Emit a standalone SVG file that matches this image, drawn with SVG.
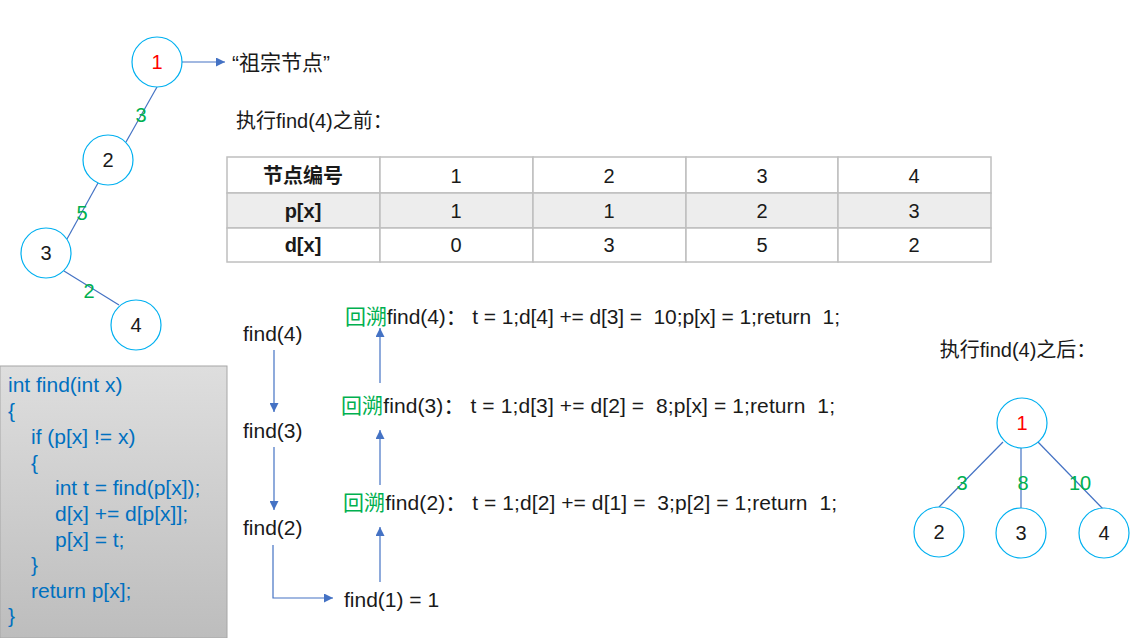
<svg xmlns="http://www.w3.org/2000/svg" width="1142" height="638" viewBox="0 0 1142 638">
<defs>
<marker id="arr" viewBox="0 0 10 10" refX="10" refY="5" markerWidth="9" markerHeight="9" markerUnits="userSpaceOnUse" orient="auto">
<path d="M0,0 L10,5 L0,10 z" fill="#4472C4"/>
</marker>
<linearGradient id="codebg" x1="0" y1="0" x2="0" y2="1">
<stop offset="0" stop-color="#DEDEDE"/>
<stop offset="1" stop-color="#BDBDBD"/>
</linearGradient>
<style>
text{font-family:"Liberation Sans","Noto Sans CJK SC",sans-serif;fill:#1a1a1a;white-space:pre;}
.node circle{fill:#fff;stroke:#00B0F0;stroke-width:1.2;}
.node text{font-size:20px;text-anchor:middle;dominant-baseline:central;}
.red{fill:#FF0000 !important;}
.grn{fill:#00B050 !important;}
.lbl{font-size:20px;text-anchor:middle;dominant-baseline:central;fill:#00B050;}
.edge{stroke:#4472C4;stroke-width:1.2;fill:none;}
.arrow{stroke:#4472C4;stroke-width:1.2;fill:none;marker-end:url(#arr);}
.cell{fill:#fff;stroke:#BFBFBF;stroke-width:1.5;}
.cellg{fill:#EDEDED;stroke:#BFBFBF;stroke-width:1.5;}
.tt{font-size:20px;text-anchor:middle;dominant-baseline:central;}
.tb{font-size:20px;text-anchor:middle;dominant-baseline:central;font-weight:bold;}
.code{font-size:21px;fill:#0070C0;dominant-baseline:central;}
.flow{font-size:21px;dominant-baseline:central;}
</style>
</defs>

<g id="connectors">
<line class="edge" x1="157" y1="87" x2="126" y2="142"/>
<line class="edge" x1="98" y1="183" x2="67" y2="239"/>
<line class="edge" x1="64" y1="271" x2="119" y2="305"/>
<line class="arrow" x1="182" y1="62" x2="225" y2="62"/>
<line class="arrow" x1="274" y1="350" x2="274" y2="412"/>
<line class="arrow" x1="274" y1="447" x2="274" y2="510"/>
<polyline class="arrow" points="273,545 273,598 333,598"/>
<line class="arrow" x1="380" y1="383" x2="380" y2="328"/>
<line class="arrow" x1="380" y1="485" x2="380" y2="430"/>
<line class="arrow" x1="380" y1="582" x2="380" y2="527"/>
<line class="edge" x1="1003" y1="442" x2="939" y2="507"/>
<line class="edge" x1="1021" y1="448" x2="1021" y2="508"/>
<line class="edge" x1="1038" y1="442" x2="1103" y2="509"/>
</g>

<g id="edge-labels">
<text class="lbl" x="141" y="115">3</text>
<text class="lbl" x="82" y="213">5</text>
<text class="lbl" x="89" y="291">2</text>
<text class="lbl" x="962" y="483">3</text>
<text class="lbl" x="1023" y="483">8</text>
<text class="lbl" x="1080" y="483">10</text>
</g>

<g id="n1" class="node"><circle cx="157" cy="62" r="25"/><text x="157" y="62" class="red">1</text></g>
<g id="n2" class="node"><circle cx="108" cy="160" r="25"/><text x="108" y="160">2</text></g>
<g id="n3" class="node"><circle cx="46" cy="253" r="25"/><text x="46" y="253">3</text></g>
<g id="n4" class="node"><circle cx="136" cy="325" r="25"/><text x="136" y="325">4</text></g>

<g id="ancestor-label"><text x="232" y="62" style="font-size:21px;dominant-baseline:central;">“祖宗节点”</text></g>
<g id="before-title"><text x="236" y="121" style="font-size:20px;dominant-baseline:central;">执行find(4)之前：</text></g>

<g id="table">
<rect class="cell" x="227" y="157" width="153" height="36"/>
<rect class="cell" x="380" y="157" width="153" height="36"/>
<rect class="cell" x="533" y="157" width="153" height="36"/>
<rect class="cell" x="686" y="157" width="152" height="36"/>
<rect class="cell" x="838" y="157" width="153" height="36"/>
<rect class="cellg" x="227" y="193" width="153" height="35"/>
<rect class="cellg" x="380" y="193" width="153" height="35"/>
<rect class="cellg" x="533" y="193" width="153" height="35"/>
<rect class="cellg" x="686" y="193" width="152" height="35"/>
<rect class="cellg" x="838" y="193" width="153" height="35"/>
<rect class="cell" x="227" y="228" width="153" height="34"/>
<rect class="cell" x="380" y="228" width="153" height="34"/>
<rect class="cell" x="533" y="228" width="153" height="34"/>
<rect class="cell" x="686" y="228" width="152" height="34"/>
<rect class="cell" x="838" y="228" width="153" height="34"/>
<text class="tb" x="303" y="176">节点编号</text>
<text class="tt" x="456" y="176">1</text>
<text class="tt" x="609" y="176">2</text>
<text class="tt" x="762" y="176">3</text>
<text class="tt" x="914" y="176">4</text>
<text class="tb" x="303" y="211">p[x]</text>
<text class="tt" x="456" y="211">1</text>
<text class="tt" x="609" y="211">1</text>
<text class="tt" x="762" y="211">2</text>
<text class="tt" x="914" y="211">3</text>
<text class="tb" x="303" y="245">d[x]</text>
<text class="tt" x="456" y="245">0</text>
<text class="tt" x="609" y="245">3</text>
<text class="tt" x="762" y="245">5</text>
<text class="tt" x="914" y="245">2</text>
</g>

<g id="code">
<rect x="0" y="366" width="227" height="272" fill="url(#codebg)" stroke="#A6A6A6" stroke-width="1"/>
<text class="code" x="8" y="384">int find(int x)</text>
<text class="code" x="8" y="410">{</text>
<text class="code" x="31" y="436">if (p[x] != x)</text>
<text class="code" x="31" y="462">{</text>
<text class="code" x="55" y="487">int t = find(p[x]);</text>
<text class="code" x="55" y="513">d[x] += d[p[x]];</text>
<text class="code" x="55" y="539">p[x] = t;</text>
<text class="code" x="31" y="564">}</text>
<text class="code" x="31" y="590">return p[x];</text>
<text class="code" x="8" y="615">}</text>
</g>

<g id="calls">
<text class="flow" x="243" y="333">find(4)</text>
<text class="flow" x="243" y="430">find(3)</text>
<text class="flow" x="243" y="527">find(2)</text>
<text class="flow" x="344" y="599">find(1) = 1</text>
</g>

<g id="backtrack">
<text class="flow" x="345" y="316" textLength="495" lengthAdjust="spacing"><tspan class="grn">回溯</tspan>find(4)： t = 1;d[4] += d[3] =  10;p[x] = 1;return  1;</text>
<text class="flow" x="341" y="405" textLength="494" lengthAdjust="spacing"><tspan class="grn">回溯</tspan>find(3)： t = 1;d[3] += d[2] =  8;p[x] = 1;return  1;</text>
<text class="flow" x="343" y="502" textLength="494" lengthAdjust="spacing"><tspan class="grn">回溯</tspan>find(2)： t = 1;d[2] += d[1] =  3;p[2] = 1;return  1;</text>
</g>

<g id="after-title"><text x="1018" y="350" style="font-size:20px;text-anchor:middle;dominant-baseline:central;">执行find(4)之后：</text></g>

<g id="m1" class="node"><circle cx="1022" cy="423" r="25"/><text x="1022" y="423" class="red">1</text></g>
<g id="m2" class="node"><circle cx="939" cy="532" r="25"/><text x="939" y="532">2</text></g>
<g id="m3" class="node"><circle cx="1021" cy="533" r="25"/><text x="1021" y="533">3</text></g>
<g id="m4" class="node"><circle cx="1104" cy="533" r="25"/><text x="1104" y="533">4</text></g>
</svg>
